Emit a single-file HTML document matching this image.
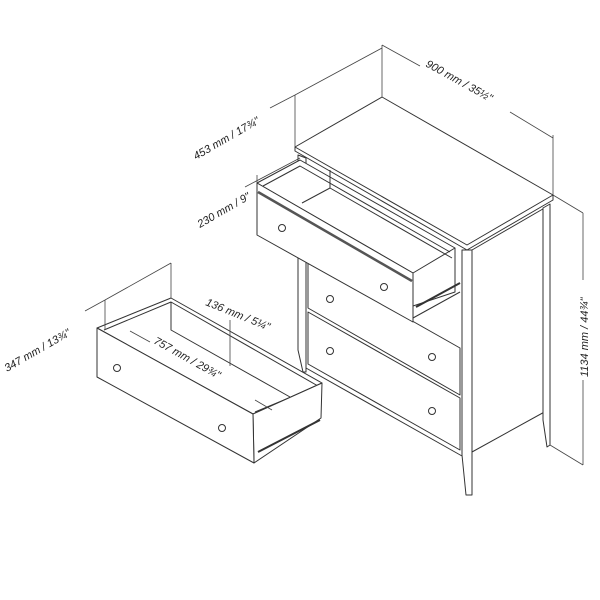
<!DOCTYPE html>
<html><head><style>
html,body{margin:0;padding:0;background:#fff;width:600px;height:600px;overflow:hidden}
text{font-family:"Liberation Sans",sans-serif;font-style:italic;font-size:11px;fill:#222}
</style></head><body>
<svg width="600" height="600" viewBox="0 0 600 600" xmlns="http://www.w3.org/2000/svg">
<g fill="none" stroke="#333" stroke-width="1" stroke-linejoin="round">
<!-- top -->
<polygon points="295,147 382,97 553,195 467,245" fill="#fff"/>
<polyline points="295,147 295,151 467,250 553,200 553,195"/>
<!-- right side -->
<polygon points="472,250 548,206 548,410 472,452" fill="#fff"/>
<polygon points="543,208 550,204 550,445 547,447 543,420" fill="#fff"/>
<polygon points="462,250 472,250 472,495 466,495 462,455" fill="#fff"/>
<polygon points="298,155 306,158 306,372 303,372 298,350" fill="#fff"/>
<!-- lower drawers -->
<polygon points="308,262 460,348 460,395 308,308" fill="#fff"/>
<polygon points="308,312 460,398 460,450 308,364" fill="#fff"/>
<line x1="306" y1="368" x2="462" y2="456"/>
<!-- shelf behind open top drawer -->
<line x1="413" y1="318" x2="460" y2="292"/>
<line x1="416" y1="307" x2="460" y2="283" stroke-width="2"/>
<!-- top open drawer -->
<polygon points="257,183 300,160 455,248 413,273" fill="#fff"/>
<polyline points="263,186 300,166 450,252"/>
<polyline points="330,170 330,188 452,258"/>
<line x1="302" y1="203" x2="330" y2="188"/>
<polyline points="455,248 455,292 413,306"/>
<polygon points="257,183 413,273 413,322 257,235" fill="#fff"/>
<line x1="258" y1="192" x2="412" y2="281" stroke-width="2.5" stroke="#555"/>
<!-- left drawer -->
<polygon points="97,328 171,298 322,383 253,414" fill="#fff"/>
<polyline points="104,330 171,302 318,386 255,412"/>
<polyline points="171,302 171,330 290,397"/>
<line x1="110" y1="336" x2="171" y2="330" stroke="none"/>
<polygon points="253,414 322,383 321,418 254,463" fill="#fff"/>
<line x1="258" y1="452" x2="320" y2="420" stroke-width="2"/>
<polygon points="97,328 253,414 254,463 97,377" fill="#fff"/>
<!-- knobs -->
<circle cx="282" cy="228" r="3.5"/><circle cx="384" cy="287" r="3.5"/>
<circle cx="330" cy="299" r="3.5"/><circle cx="432" cy="357" r="3.5"/>
<circle cx="330" cy="351" r="3.5"/><circle cx="432" cy="411" r="3.5"/>
<circle cx="117" cy="368" r="3.5"/><circle cx="222" cy="428" r="3.5"/>
</g>
<g stroke="#444" stroke-width="0.8" fill="none">
<line x1="382" y1="45" x2="382" y2="97"/>
<line x1="553" y1="135" x2="553" y2="195"/>
<line x1="382" y1="45" x2="420" y2="66"/><line x1="510" y1="112" x2="553" y2="138"/>
<line x1="295" y1="95" x2="295" y2="147"/>
<line x1="295" y1="95" x2="382" y2="48"/>
<line x1="270" y1="108" x2="295" y2="95"/>
<line x1="553" y1="195" x2="583" y2="213"/>
<line x1="550" y1="445" x2="583" y2="465"/>
<line x1="583" y1="213" x2="583" y2="280"/><line x1="583" y1="380" x2="583" y2="465"/>
<line x1="257" y1="183" x2="257" y2="175"/><line x1="245" y1="187" x2="300" y2="158"/>
<line x1="105" y1="300" x2="105" y2="330"/>
<line x1="171" y1="263" x2="171" y2="298"/>
<line x1="105" y1="300" x2="171" y2="263"/>
<line x1="85" y1="311" x2="105" y2="300"/>
<line x1="230" y1="320" x2="230" y2="366"/>
<line x1="130" y1="331" x2="150" y2="342"/><line x1="255" y1="400" x2="272" y2="410"/>
</g>
<text transform="translate(425,66) rotate(29)">900 mm / 35½"</text>
<text transform="translate(196,160) rotate(-30)">453 mm / 17¾"</text>
<text transform="translate(200,228) rotate(-30)">230 mm / 9"</text>
<text transform="translate(7,372) rotate(-30)">347 mm / 13¾"</text>
<text transform="translate(205,305) rotate(22)">136 mm / 5¼"</text>
<text transform="translate(153,343) rotate(29)">757 mm / 29¾"</text>
<text transform="translate(588,377) rotate(-90)">1134 mm / 44¾"</text>
</svg>
</body></html>
